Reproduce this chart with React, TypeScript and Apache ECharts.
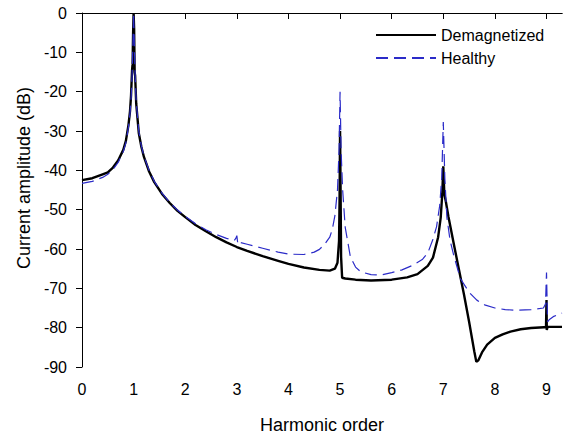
import React, { useEffect, useRef } from "react";
import * as echarts from "echarts";

const FONT = "Liberation Sans, Arial, sans-serif";

const xTicks = [0, 1, 2, 3, 4, 5, 6, 7, 8, 9];
const yTicks = [0, -10, -20, -30, -40, -50, -60, -70, -80, -90];

const demagX = [
  0, 0.2, 0.4, 0.5, 0.6, 0.7, 0.8, 0.85, 0.9, 0.93, 0.95, 0.97, 0.98, 0.99, 1.0,
  1.01, 1.02, 1.03, 1.05, 1.1, 1.15, 1.2, 1.3, 1.4, 1.55, 1.7, 1.85, 2.0, 2.2,
  2.4, 2.6, 2.8, 3.0, 3.2, 3.5, 3.8, 4.0, 4.3, 4.6, 4.8, 4.9, 4.95, 4.98, 4.99,
  5.0, 5.01, 5.02, 5.04, 5.1, 5.3, 5.6, 6.0, 6.3, 6.5, 6.7, 6.8, 6.9, 6.95,
  6.98, 7.0, 7.02, 7.05, 7.1, 7.2, 7.3, 7.4, 7.5, 7.6, 7.64, 7.68, 7.75, 7.85,
  8.0, 8.15, 8.3, 8.5, 8.7, 8.95, 8.99, 9.0, 9.005, 9.02, 9.3,
];
const demagY = [
  -42.5, -42.0, -41.0, -40.5, -39.3, -37.5, -34.8, -32.5, -28.5, -25, -21,
  -14.5, -13, -5, 0, -4, -15, -16, -23, -30.5, -34, -36.6, -40.3, -43, -46,
  -48.3, -50.3, -51.9, -53.9, -55.5, -57, -58.3, -59.5, -60.5, -61.8, -63,
  -63.8, -64.7, -65.3, -65.5, -65, -63.5, -58, -48, -30, -45, -62, -67.3,
  -67.5, -67.8, -68, -67.8, -67.2, -66.4, -64.3, -62.2, -57, -52, -46, -39,
  -46, -48, -51.8, -58.5, -65, -71.5, -78.5, -86, -88.7, -88.3, -86.3, -84.3,
  -82.6, -81.7, -81, -80.4, -80.1, -79.9, -79.9, -73, -80.6, -79.8, -79.8,
];

const healthyX = [
  0, 0.2, 0.4, 0.5, 0.6, 0.7, 0.8, 0.85, 0.9, 0.93, 0.95, 0.97, 0.99, 1.0, 1.01,
  1.03, 1.05, 1.1, 1.15, 1.2, 1.3, 1.4, 1.55, 1.7, 1.85, 2.0, 2.2, 2.4, 2.6,
  2.8, 2.95, 2.98, 3.0, 3.02, 3.05, 3.2, 3.5, 3.8, 4.0, 4.3, 4.5, 4.6, 4.7,
  4.8, 4.85, 4.9, 4.95, 4.98, 5.0, 5.02, 5.05, 5.1, 5.2, 5.3, 5.4, 5.6, 5.8,
  6.0, 6.2, 6.4, 6.6, 6.7, 6.8, 6.87, 6.93, 6.97, 7.0, 7.03, 7.07, 7.13, 7.2,
  7.33, 7.5, 7.65, 7.8, 8.0, 8.2, 8.42, 8.7, 8.94, 8.98, 9.0, 9.02, 9.05, 9.13,
  9.3,
];
const healthyY = [
  -43.3, -42.8, -41.8, -41, -39.8, -38, -35.2, -33, -29, -25.5, -22, -16, -6, 0,
  -6, -16, -22.5, -30, -33.8, -36.4, -40, -42.8, -45.8, -48.2, -50.1, -51.7,
  -53.6, -55.1, -56.3, -57.3, -57.8, -57.3, -56.6, -58.8, -58.3, -58.8, -59.8,
  -60.8, -61.3, -61.4, -60.8, -60.1, -58.8, -57, -55, -51.5, -45, -35, -20,
  -35, -45, -54.5, -62, -64.6, -65.8, -66.5, -66.6, -66, -65.3, -64.2, -62.6,
  -61, -57.5, -54.3, -49, -42, -27.7, -42, -52, -57.7, -61.5, -67.5, -71, -73,
  -74.2, -75, -75.4, -75.6, -75.4, -75, -74, -66, -78.5, -78, -77.2, -76.3,
];

const pairs = (xs: number[], ys: number[]) => xs.map((x, i) => [x, ys[i]]);

export default function App() {
  const ref = useRef<HTMLDivElement>(null);
  useEffect(() => {
    if (!ref.current) return;
    const chart = echarts.init(ref.current, null, { renderer: "svg" });
    chart.setOption({
      animation: false,
      backgroundColor: "#ffffff",
      textStyle: { fontFamily: FONT },
      grid: { left: 82, top: 13, right: 1, bottom: 67, outerBoundsMode: "none", containLabel: false },
      legend: {
        orient: "vertical",
        left: 370,
        top: 22,
        itemWidth: 60,
        itemHeight: 14,
        itemGap: 7,
        itemStyle: { opacity: 0 },
        textStyle: { fontSize: 16, color: "#000", fontFamily: FONT },
        data: ["Demagnetized", "Healthy"],
      },
      xAxis: [
        {
          type: "value",
          min: 0,
          max: 9.3,
          interval: 1,
          name: "Harmonic order",
          nameLocation: "middle",
          nameGap: 49,
          nameTextStyle: { fontSize: 18, color: "#000", fontFamily: FONT },
          axisLine: { lineStyle: { color: "#000", width: 1 } },
          axisTick: { show: true, length: 6, lineStyle: { color: "#000" }, customValues: xTicks },
          axisLabel: { fontSize: 16, color: "#000", margin: 14, customValues: xTicks },
          splitLine: { show: false },
        },
        {
          type: "value",
          position: "top",
          min: 0,
          max: 9.3,
          axisLine: { show: true, lineStyle: { color: "#000", width: 1 } },
          axisTick: { show: false },
          axisLabel: { show: false },
          splitLine: { show: false },
        },
      ],
      yAxis: {
        type: "value",
        min: -90,
        max: 0,
        interval: 10,
        axisLine: { show: true, lineStyle: { color: "#000", width: 1 } },
        axisTick: { show: true, length: 6, lineStyle: { color: "#000" } },
        axisLabel: { fontSize: 16, color: "#000", margin: 15, customValues: yTicks },
        splitLine: { show: false },
      },
      graphic: [
        {
          type: "text",
          x: 24,
          y: 178,
          rotation: Math.PI / 2,
          style: {
            text: "Current amplitude (dB)",
            fontSize: 18,
            fontFamily: FONT,
            fill: "#000",
            align: "center",
            verticalAlign: "middle",
          },
        },
      ],
      series: [
        {
          name: "Demagnetized",
          type: "line",
          xAxisIndex: 0,
          data: pairs(demagX, demagY),
          symbol: "none",
          lineStyle: { color: "#000", width: 2.4 },
          itemStyle: { color: "#000" },
          z: 3,
        },
        {
          name: "Healthy",
          type: "line",
          xAxisIndex: 0,
          data: pairs(healthyX, healthyY),
          symbol: "none",
          lineStyle: { color: "#2b2bc8", width: 1.2, type: [12, 6] },
          itemStyle: { color: "#2b2bc8" },
          z: 4,
        },
      ],
    });
    return () => chart.dispose();
  }, []);
  return (
    <div
      ref={ref}
      style={{ position: "fixed", left: 0, top: 0, width: 563, height: 434, background: "#fff" }}
    />
  );
}
